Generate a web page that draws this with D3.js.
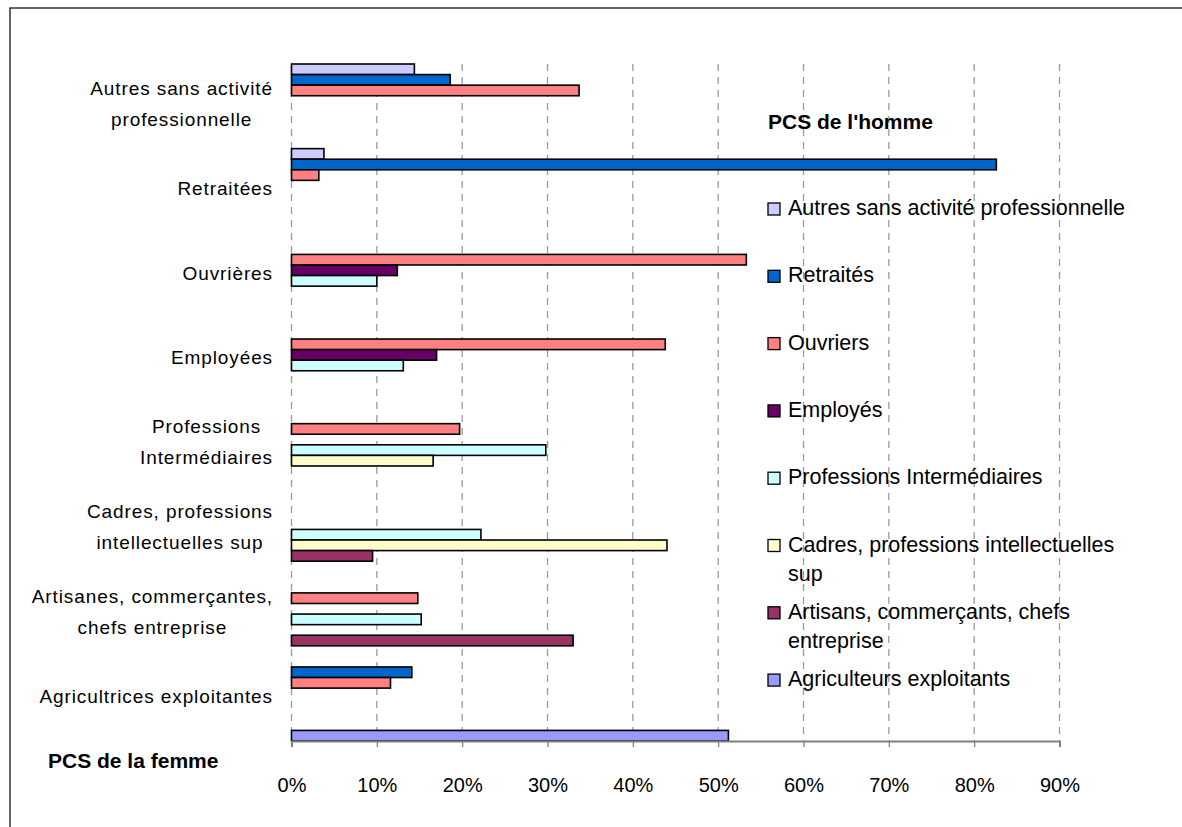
<!DOCTYPE html>
<html>
<head>
<meta charset="utf-8">
<script src="https://cdn.jsdelivr.net/npm/d3@7"></script>
<style>
body { margin: 0; background: #fff; }
text { font-family: "Liberation Sans", Arial, sans-serif; fill: #000; }
</style>
</head>
<body>
<div id="chart"></div>
<script>
// PCS de la femme (categories, top to bottom)
var femmes = ["Autres sans activité professionnelle", "Retraitées", "Ouvrières", "Employées",
  "Professions Intermédiaires", "Cadres, professions intellectuelles sup",
  "Artisanes, commerçantes, chefs entreprise", "Agricultrices exploitantes"];
var femmeLines = [["Autres sans activité", "professionnelle"], ["Retraitées"], ["Ouvrières"], ["Employées"],
  ["Professions", "Intermédiaires"], ["Cadres, professions", "intellectuelles sup"],
  ["Artisanes, commerçantes,", "chefs entreprise"], ["Agricultrices exploitantes"]];

// PCS de l'homme (series, legend order)
var hommes = ["Autres sans activité professionnelle", "Retraités", "Ouvriers", "Employés",
  "Professions Intermédiaires", "Cadres, professions intellectuelles sup",
  "Artisans, commerçants, chefs entreprise", "Agriculteurs exploitants"];
var hommeLines = [["Autres sans activité professionnelle"], ["Retraités"], ["Ouvriers"], ["Employés"],
  ["Professions Intermédiaires"], ["Cadres, professions intellectuelles", "sup"],
  ["Artisans, commerçants, chefs", "entreprise"], ["Agriculteurs exploitants"]];
var couleurs = ["#CCCCFF", "#0066CC", "#FF8080", "#660066", "#CCFFFF", "#FFFFCC", "#993366", "#9999FF"];

// values in %, one array per series, in the order of femmes
var autres       = [14.4, 3.8, 0, 0, 0, 0, 0, 0];
var retraites    = [18.6, 82.6, 0, 0, 0, 0, 0, 14.1];
var ouvriers     = [33.7, 3.2, 53.3, 43.8, 19.7, 0, 14.8, 11.6];
var employes     = [0, 0, 12.4, 17.0, 0, 0, 0, 0];
var profInter    = [0, 0, 10.0, 13.1, 29.8, 22.2, 15.2, 0];
var cadres       = [0, 0, 0, 0, 16.6, 44.0, 0, 0];
var artisans     = [0, 0, 0, 0, 0, 9.5, 33.0, 0];
var agriculteurs = [0, 0, 0, 0, 0, 0, 0, 51.2];
var series = [autres, retraites, ouvriers, employes, profInter, cadres, artisans, agriculteurs];

var xTicks = [0, 10, 20, 30, 40, 50, 60, 70, 80, 90];

var width = 1182, height = 827;
var plot = {left: 291.5, right: 1059.5, top: 64, bottom: 741};

var svg = d3.select("#chart").append("svg")
    .attr("width", width)
    .attr("height", height);

// outer frame
svg.append("rect")
    .attr("x", 10).attr("y", 8)
    .attr("width", width + 20).attr("height", height + 20)
    .attr("fill", "none")
    .attr("stroke", "#000")
    .attr("stroke-width", 1.2);

var x = d3.scaleLinear().domain([0, 90]).range([plot.left, plot.right]);
var y = d3.scaleBand().domain(femmes).range([plot.top, plot.bottom]).padding(0);
var yIn = d3.scaleBand().domain(hommes).range([0, y.bandwidth()]).padding(0);

// gridlines
svg.append("g").selectAll("line")
    .data(xTicks)
    .enter()
    .append("line")
    .attr("x1", function(d) { return x(d); })
    .attr("x2", function(d) { return x(d); })
    .attr("y1", plot.top)
    .attr("y2", plot.bottom)
    .attr("stroke", "#9a9a9a")
    .attr("stroke-width", 1.3)
    .attr("stroke-dasharray", "7,6");

// bars
var rows = [];
series.forEach(function(vals, i) {
  vals.forEach(function(v, j) {
    if (v > 0) rows.push({femme: femmes[j], homme: hommes[i], value: v, color: couleurs[i]});
  });
});

svg.append("g").selectAll("rect")
    .data(rows)
    .enter()
    .append("rect")
    .attr("x", x(0))
    .attr("y", function(d) { return y(d.femme) + yIn(d.homme); })
    .attr("width", function(d) { return x(d.value) - x(0); })
    .attr("height", yIn.bandwidth())
    .attr("fill", function(d) { return d.color; })
    .attr("stroke", "#000")
    .attr("stroke-width", 1.6);

// x axis
var xAxis = svg.append("g")
    .attr("transform", "translate(0," + plot.bottom + ")")
    .call(d3.axisBottom(x).tickValues(xTicks).tickSize(6).tickFormat(function(d) { return d + "%"; }));
xAxis.select(".domain").attr("stroke", "#808080").attr("stroke-width", 2);
xAxis.selectAll(".tick line").attr("stroke", "#808080").attr("stroke-width", 1.3);
xAxis.selectAll(".tick text")
    .attr("y", 51)
    .attr("dy", 0)
    .attr("font-size", 20)
    .attr("font-family", "Liberation Sans, Arial, sans-serif")
    .attr("fill", "#000");

// category labels
var catG = svg.append("g");
femmeLines.forEach(function(lines, j) {
  var g = catG.append("g");
  var lh = 31;
  var cy = y(femmes[j]) + y.bandwidth() / 2 - 3;
  var t = g.selectAll("text")
      .data(lines)
      .enter()
      .append("text")
      .attr("text-anchor", "middle")
      .attr("font-size", 19)
      .attr("letter-spacing", 0.9)
      .attr("y", function(d, k) { return cy + 7 + (k - (lines.length - 1) / 2) * lh; })
      .text(function(d) { return d; });
  var w = d3.max(t.nodes(), function(n) { return n.getComputedTextLength(); });
  t.attr("x", 273 - w / 2);
});

// axis titles
svg.append("text")
    .attr("x", 48).attr("y", 768)
    .attr("font-size", 21)
    .attr("font-weight", "bold")
    .text("PCS de la femme");

svg.append("text")
    .attr("x", 768).attr("y", 129)
    .attr("font-size", 21)
    .attr("font-weight", "bold")
    .text("PCS de l'homme");

// legend
var leg = svg.append("g");
hommes.forEach(function(h, i) {
  var base = 215 + i * 67.3;
  leg.append("rect")
      .attr("x", 768).attr("y", base - 12)
      .attr("width", 12).attr("height", 12)
      .attr("fill", couleurs[i])
      .attr("stroke", "#000")
      .attr("stroke-width", 1.3);
  leg.append("g").selectAll("text")
      .data(hommeLines[i])
      .enter()
      .append("text")
      .attr("x", 788)
      .attr("y", function(d, k) { return base + k * 29; })
      .attr("font-size", 21.5)
      .text(function(d) { return d; });
});
</script>
</body>
</html>
